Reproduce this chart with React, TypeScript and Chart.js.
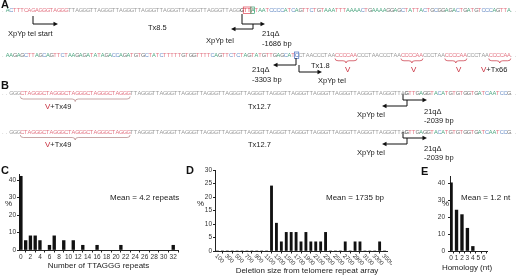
import React, { useEffect, useRef } from 'react';
import { Chart, registerables } from 'chart.js';

Chart.register(...registerables);

// ---------- Panel C: number of TTAGGG repeats ----------
const repeatCounts = [0, 1, 2, 3, 4, 6, 7, 9, 11, 13, 16, 21, 32];
const repeatPercent = [42.2, 5.4, 8.1, 8.1, 5.4, 2.7, 8.1, 5.4, 5.4, 2.7, 2.7, 2.7, 2.7];
const repeatTicks = [0, 2, 4, 6, 8, 10, 12, 14, 16, 18, 20, 22, 24, 26, 28, 30, 32];
const percentTicksC = [0, 10, 20, 30, 40];

// ---------- Panel D: deletion size (bp bins) ----------
const deletionBins = [100, 200, 300, 400, 500, 600, 700, 800, 900, 1000, 1100, 1200, 1300, 1400, 1500, 1600, 1700, 1800, 1900, 2000, 2100, 2200, 2300, 2400, 2500, 2600, 2700, 2800, 2900, 3000, 3100, 3200, 3300, 3400, 3500];
const deletionPercent = [0, 0, 0, 0, 0, 0, 0, 0, 0, 0, 0, 24.1, 10.3, 3.4, 6.9, 6.9, 6.9, 3.4, 6.9, 3.4, 3.4, 3.4, 6.9, 0, 0, 0, 3.4, 0, 3.4, 3.4, 0, 0, 0, 3.4, 0];
const deletionTicks = [100, 300, 500, 700, 900, 1100, 1300, 1500, 1700, 1900, 2100, 2300, 2500, 2700, 2900, 3100, 3300, 3500];
const percentTicksD = [0, 5, 10, 15, 20, 25, 30];

// ---------- Panel E: microhomology ----------
const homologyNt = [0, 1, 2, 3, 4];
const homologyPercent = [40.5, 24.3, 21.6, 13.5, 2.7];
const homologyTicks = [0, 1, 2, 3, 4, 5, 6];
const percentTicksE = [0, 10, 20, 30, 40];

const FONT = 'Arial, "Liberation Sans", Helvetica, sans-serif';
const INK = '#222';

function axisCommon(tickLen: number, pad: number) {
  return {
    grid: { display: true, drawOnChartArea: false, drawTicks: true, tickLength: tickLen, color: INK, lineWidth: 1 },
    border: { display: true, color: INK, width: 1 },
    ticks: { font: { family: FONT, size: 6.5 }, color: '#333', padding: pad, maxRotation: 0, autoSkip: false },
  };
}

function makeBarConfig(opts: any): any {
  const { points, thickness, xMin, xMax, xTicks, yMax, yTicks, yWidth, xHeight, padding, title, titlePad, hideXLabels, plugins, yPad } = opts;
  const xa: any = axisCommon(2.5, 1);
  const ya: any = axisCommon(2, yPad);
  return {
    type: 'bar',
    data: {
      datasets: [{ data: points, backgroundColor: '#111', borderWidth: 0, barThickness: thickness }],
    },
    plugins: plugins || [],
    options: {
      animation: false,
      responsive: false,
      devicePixelRatio: 1,
      layout: { padding },
      plugins: { legend: { display: false }, tooltip: { enabled: false } },
      scales: {
        x: {
          type: 'linear',
          min: xMin,
          max: xMax,
          offset: false,
          ...xa,
          ticks: { ...xa.ticks, display: !hideXLabels, callback: (v: any) => String(v) },
          afterBuildTicks: (s: any) => { s.ticks = xTicks.map((v: number) => ({ value: v })); },
          afterFit: (s: any) => { s.height = xHeight; },
          title: title
            ? { display: true, text: title, font: { family: FONT, size: 8 }, color: INK, padding: { top: 0, bottom: titlePad } }
            : { display: false },
        },
        y: {
          min: 0,
          max: yMax,
          ...ya,
          afterBuildTicks: (s: any) => { s.ticks = yTicks.map((v: number) => ({ value: v })); },
          afterFit: (s: any) => { s.width = yWidth; },
        },
      },
    },
  };
}

const rotatedLabels = {
  id: 'rotatedLabels',
  afterDraw(chart: any) {
    const sx = chart.scales.x;
    const ctx = chart.ctx;
    ctx.save();
    ctx.fillStyle = '#333';
    ctx.font = `6px ${FONT}`;
    ctx.textAlign = 'left';
    ctx.textBaseline = 'middle';
    deletionTicks.forEach((v) => {
      const px = sx.getPixelForValue(v);
      ctx.save();
      ctx.translate(px - 1.5, sx.top + 4);
      ctx.rotate(Math.PI / 4);
      ctx.fillText(String(v), 0, 0);
      ctx.restore();
    });
    ctx.restore();
  },
};

function BarCanvas({ left, top, width, height, config }: any) {
  const ref = useRef<HTMLCanvasElement | null>(null);
  useEffect(() => {
    if (!ref.current) return;
    const chart = new Chart(ref.current, config());
    return () => chart.destroy();
  }, []);
  return (
    <canvas
      ref={ref}
      width={width}
      height={height}
      style={{ position: 'absolute', left, top, width, height }}
    />
  );
}

// ---------- sequence drawing ----------
const X0 = 2;
const CW = 3.66;
const COLORS: Record<string, string> = {
  g: '#9a9a9a',
  p: '#e27382',
  k: '#333333',
  r: '#e04050',
  a: '#3aa070',
  b: '#4a70c0',
};
const BASE: Record<string, string> = { A: '#4aa57f', C: '#6b8fc7', G: '#707070', T: '#e27382', '.': '#9a9a9a' };

const rowA1: [string, string][] = [
  ['.', 'g'], ['AC', 'dna'], ['TTTCA', 'p'], ['GAGGGTAGGG', 'p'],
  ['TTAGGGTTAGGGTTAGGGTTAGGGTTAGGGTTAGGGTTAGGGTTAGG', 'g'],
  ['G', 'k'], ['TT', 'r'], ['A', 'a'],
  ['TAATCCCCATCAGTTCTGTAAATTTAAAACTGAAAAGGAGCTATTACTGCGGAGACTGATGTCCCAGTTA', 'dna'], ['..', 'g'],
];
const rowA2: [string, string][] = [
  ['.', 'g'], ['AAGAGCTTAGCAGTTCTAAGAGATATAGACCAGATGTGCTATCTTTTTGTGGTTTTCAGTTCTCTAGTATGTTGAGCAT', 'dna'],
  ['C', 'b'], ['CTAACCCTAA', 'g'], ['CCCCAA', 'p'], ['CCCTAACCCTAA', 'g'], ['CCCCAA', 'p'],
  ['CCCTAA', 'g'], ['CCCCAA', 'p'], ['CCCTAA', 'g'], ['CCCCAA', 'p'], ['..', 'g'],
];
const rowB: [string, string][] = [
  ['..', 'g'], ['GGG', 'g'], ['CTAGGGCTAGGGCTAGGGCTAGGGCTAGGG', 'p'],
  ['TTAGGGTTAGGGTTAGGGTTAGGGTTAGGGTTAGGGTTAGGGTTAGGGTTAGGGTTAGGGTTAGGGTTAGGG', 'g'],
  ['TTA', 'g'], ['G', 'k'], ['TTGAGGTACATGTGTGGTGATCAATCCG', 'dna'], ['..', 'g'],
];

function SeqRow({ y, segs }: { y: number; segs: [string, string][] }) {
  const runs: { t: string; c: string; start: number }[] = [];
  let idx = 0;
  segs.forEach(([txt, kind]) => {
    if (kind === 'dna') {
      for (let i = 0; i < txt.length; i++) {
        const c = BASE[txt[i]] || '#888';
        const last = runs[runs.length - 1];
        if (last && last.c === c && last.start + last.t.length === idx + i) last.t += txt[i];
        else runs.push({ t: txt[i], c, start: idx + i });
      }
    } else {
      runs.push({ t: txt, c: COLORS[kind], start: idx });
    }
    idx += txt.length;
  });
  return (
    <text y={y} fontSize={5.7} fontFamily={FONT}>
      {runs.map((r, k) => {
        const xs: string[] = [];
        for (let i = 0; i < r.t.length; i++) xs.push((X0 + (r.start + i) * CW).toFixed(2));
        return (
          <tspan key={k} x={xs.join(' ')} fill={r.c}>
            {r.t}
          </tspan>
        );
      })}
    </text>
  );
}

function HArrow({ x1, x2, y }: { x1: number; x2: number; y: number }) {
  const d = Math.sign(x2 - x1);
  return (
    <g>
      <line x1={x1} y1={y} x2={x2 - d * 3} y2={y} stroke="#111" strokeWidth={1} />
      <path d={`M${x2},${y} L${x2 - d * 4.5},${y - 2.2} L${x2 - d * 4.5},${y + 2.2} Z`} fill="#111" />
    </g>
  );
}

function VLine({ x, y1, y2 }: { x: number; y1: number; y2: number }) {
  return <line x1={x} y1={y1} x2={x} y2={y2} stroke="#111" strokeWidth={1} />;
}

function Brace({ i1, i2, y, h, color }: { i1: number; i2: number; y: number; h: number; color: string }) {
  const x1 = X0 + i1 * CW;
  const x2 = X0 + (i2 + 1) * CW;
  const m = (x1 + x2) / 2;
  const hm = y + h / 2;
  const d = `M${x1},${y} Q${x1},${hm} ${x1 + 3},${hm} L${m - 3},${hm} Q${m},${hm} ${m},${y + h} Q${m},${hm} ${m + 3},${hm} L${x2 - 3},${hm} Q${x2},${hm} ${x2},${y}`;
  return <path d={d} fill="none" stroke={color} strokeWidth={0.7} />;
}

function Label({ x, y, children, size = 7.5, color = INK, weight = 'normal', anchor = 'start' }: any) {
  return (
    <text x={x} y={y} fontSize={size} fontFamily={FONT} fill={color} fontWeight={weight} textAnchor={anchor} dominantBaseline="central">
      {children}
    </text>
  );
}

const RED = '#c8303f';

export default function App() {
  const cfgC = () =>
    makeBarConfig({
      points: repeatCounts.map((x, i) => ({ x, y: repeatPercent[i] })),
      thickness: 2.7,
      xMin: -0.4, xMax: 33, xTicks: repeatTicks,
      yMax: 43, yTicks: percentTicksC, yWidth: 19, yPad: 1, xHeight: 27,
      padding: { top: 4, right: 2, left: 0, bottom: 0 },
      title: 'Number of TTAGGG repeats', titlePad: 6,
    });
  const cfgD = () =>
    makeBarConfig({
      points: deletionBins.map((x, i) => ({ x, y: deletionPercent[i] })),
      thickness: 2.2,
      xMin: 50, xMax: 3550, xTicks: deletionTicks,
      yMax: 30, yTicks: percentTicksD, yWidth: 35, yPad: 1, xHeight: 26,
      padding: { top: 5, right: 5, left: 0, bottom: 0 },
      hideXLabels: true,
      plugins: [rotatedLabels],
    });
  const cfgE = () =>
    makeBarConfig({
      points: homologyNt.map((x, i) => ({ x, y: homologyPercent[i] })),
      thickness: 2.7,
      xMin: -0.2, xMax: 6.6, xTicks: homologyTicks,
      yMax: 44, yTicks: percentTicksE, yWidth: 30, yPad: 3, xHeight: 26,
      padding: { top: 2, right: 33, left: 0, bottom: 0 },
    });

  return (
    <div style={{ position: 'absolute', left: 0, top: 0, width: 520, height: 277, background: '#fff', overflow: 'hidden' }}>
      <BarCanvas left={0} top={170} width={180} height={107} config={cfgC} />
      <BarCanvas left={180} top={165} width={212} height={112} config={cfgD} />
      <BarCanvas left={420} top={170} width={100} height={107} config={cfgE} />
      <svg width={520} height={277} style={{ position: 'absolute', left: 0, top: 0, pointerEvents: 'none' }}>
        {/* panel letters */}
        <Label x={1} y={4} size={11} weight="bold" color="#111">A</Label>
        <Label x={1} y={85} size={11} weight="bold" color="#111">B</Label>
        <Label x={1} y={170} size={11} weight="bold" color="#111">C</Label>
        <Label x={186} y={170} size={11} weight="bold" color="#111">D</Label>
        <Label x={421} y={171} size={11} weight="bold" color="#111">E</Label>

        {/* ---- A row 1 ---- */}
        <SeqRow y={12} segs={rowA1} />
        <rect x={X0 + 66 * CW - 0.3} y={7} width={2 * CW + 0.4} height={6.5} fill="none" stroke="#e04050" strokeWidth={0.7} />
        <rect x={X0 + 68 * CW - 0.1} y={7} width={CW + 0.2} height={6.5} fill="none" stroke="#3aa070" strokeWidth={0.7} />
        <VLine x={33} y1={16} y2={24} />
        <HArrow x1={33} x2={58} y={24} />
        <Label x={8} y={33}>XpYp tel start</Label>
        <Label x={148} y={27}>Tx8.5</Label>
        <VLine x={242} y1={14} y2={24} />
        <HArrow x1={242} x2={265} y={24} />
        <VLine x={253} y1={24} y2={29} />
        <HArrow x1={253} x2={231} y={29} />
        <Label x={206} y={40}>XpYp tel</Label>
        <Label x={262} y={33}>21qΔ</Label>
        <Label x={262} y={43}>-1686 bp</Label>

        {/* ---- A row 2 ---- */}
        <SeqRow y={57} segs={rowA2} />
        <rect x={X0 + 80 * CW - 0.3} y={52} width={CW + 0.6} height={6.5} fill="none" stroke="#4a70c0" strokeWidth={0.7} />
        <Brace i1={91} i2={96} y={58.5} h={4.5} color={RED} />
        <Brace i1={109} i2={114} y={58.5} h={4.5} color={RED} />
        <Brace i1={121} i2={126} y={58.5} h={4.5} color={RED} />
        <Brace i1={133} i2={138} y={58.5} h={4.5} color={RED} />
        <VLine x={296} y1={58} y2={65} />
        <HArrow x1={296} x2={273} y={65} />
        <VLine x={299} y1={65} y2={72} />
        <HArrow x1={299} x2={322} y={72} />
        <Label x={252} y={69}>21qΔ</Label>
        <Label x={252} y={79}>-3303 bp</Label>
        <Label x={311} y={65}>Tx1.8</Label>
        <Label x={318} y={80}>XpYp tel</Label>
        <Label x={345} y={69} size={8} color={RED}>V</Label>
        <Label x={411} y={69} size={8} color={RED}>V</Label>
        <Label x={456} y={69} size={8} color={RED}>V</Label>
        <text x={481} y={69} fontSize={7.5} fontFamily={FONT} dominantBaseline="central" fill={INK}>
          <tspan fill={RED} fontSize={8}>V</tspan>+Tx66
        </text>

        {/* ---- B row 1 ---- */}
        <SeqRow y={95} segs={rowB} />
        <Brace i1={5} i2={34} y={96.5} h={5} color="#b08080" />
        <text x={45} y={106} fontSize={7.5} fontFamily={FONT} dominantBaseline="central" fill={INK}>
          <tspan fill={RED} fontSize={8}>V</tspan>+Tx49
        </text>
        <Label x={248} y={106}>Tx12.7</Label>
        <VLine x={403} y1={94} y2={100} />
        <HArrow x1={403} x2={427} y={100} />
        <VLine x={407} y1={100} y2={106} />
        <HArrow x1={407} x2={382} y={106} />
        <Label x={357} y={114}>XpYp tel</Label>
        <Label x={424} y={111}>21qΔ</Label>
        <Label x={424} y={120}>-2039 bp</Label>

        {/* ---- B row 2 ---- */}
        <SeqRow y={133.5} segs={rowB} />
        <Brace i1={5} i2={34} y={135} h={5} color="#b08080" />
        <text x={45} y={144} fontSize={7.5} fontFamily={FONT} dominantBaseline="central" fill={INK}>
          <tspan fill={RED} fontSize={8}>V</tspan>+Tx49
        </text>
        <Label x={248} y={144}>Tx12.7</Label>
        <VLine x={403} y1={132} y2={138} />
        <HArrow x1={403} x2={427} y={138} />
        <VLine x={407} y1={138} y2={144} />
        <HArrow x1={407} x2={382} y={144} />
        <Label x={357} y={152}>XpYp tel</Label>
        <Label x={424} y={148}>21qΔ</Label>
        <Label x={424} y={157}>-2039 bp</Label>

        {/* ---- chart annotations ---- */}
        <Label x={5} y={203} size={8}>%</Label>
        <Label x={110} y={197} size={8}>Mean = 4.2 repeats</Label>
        <Label x={197} y={203} size={8}>%</Label>
        <Label x={326} y={197} size={8}>Mean = 1735 bp</Label>
        <Label x={307} y={270} size={8} anchor="middle">Deletion size from telomere repeat array</Label>
        <Label x={442} y={203} size={8}>%</Label>
        <Label x={461} y={197} size={8}>Mean = 1.2 nt</Label>
        <Label x={467} y={267} size={8} anchor="middle">Homology (nt)</Label>
      </svg>
    </div>
  );
}
